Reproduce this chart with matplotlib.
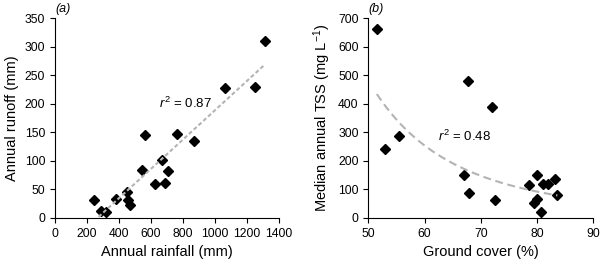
import numpy as np
import matplotlib
matplotlib.use('Agg')
import matplotlib.pyplot as plt

plt.rcParams['font.family'] = ['Liberation Sans', 'DejaVu Sans']
plt.rcParams['mathtext.fontset'] = 'custom'
plt.rcParams['mathtext.rm'] = 'Liberation Sans'
plt.rcParams['mathtext.it'] = 'Liberation Sans:italic'
plt.rcParams['mathtext.default'] = 'regular'

# panel (a): annual rainfall vs annual runoff
rain = [242, 287, 319, 379, 448, 458, 467, 546, 560, 623, 669, 690, 704, 760, 871, 1065, 1252, 1310]
runoff = [32, 13, 10, 34, 45, 31, 22, 84, 146, 59, 101, 61, 83, 147, 134, 227, 229, 309]

# panel (b): ground cover vs median annual TSS
cover = [51.5, 53.0, 55.5, 67.0, 67.8, 67.7, 71.9, 72.5, 78.6, 79.4, 80.0, 80.0, 80.6, 81.1, 82.0, 83.1, 83.6]
tss = [660, 241, 288, 151, 89, 481, 387, 63, 117, 54, 68, 152, 21, 120, 120, 135, 82]

grey = '#b4b4b4'

fig = plt.figure(figsize=(6, 2.61), dpi=100)
ax1 = fig.add_axes([0.0917, 0.1648, 0.3733, 0.7662])
ax2 = fig.add_axes([0.614, 0.1648, 0.375, 0.7662])

# linear trend for (a)
k, b = np.polyfit(rain, runoff, 1)
xl = np.array([min(rain), max(rain)])
ax1.plot(rain, runoff, 'D', color='black', markersize=4.9, zorder=2)
ax1.plot(xl, k * xl + b, '--', color=grey, lw=1.5, dashes=(1.9, 1.2), zorder=3)
ax1.set_xlim(0, 1400)
ax1.set_ylim(0, 350)
ax1.set_xticks(np.arange(0, 1401, 200))
ax1.set_yticks(np.arange(0, 351, 50))
ax1.set_xlabel('Annual rainfall (mm)', fontsize=10.5)
ax1.set_ylabel('Annual runoff (mm)', fontsize=10.5)
ax1.text(650, 192, r'$\it{r}^2$ = 0.87', fontsize=9.5, va='baseline')
ax1.text(0.0, 1.03, '(a)', style='italic', transform=ax1.transAxes, fontsize=9)

# power trend for (b)
p = np.polyfit(np.log(cover), np.log(tss), 1)
xc = np.linspace(min(cover), max(cover), 100)
ax2.plot(cover, tss, 'D', color='black', markersize=4.9, zorder=2)
ax2.plot(xc, np.exp(p[1]) * xc ** p[0], '--', color=grey, lw=1.5, dashes=(3.8, 2.2), zorder=3)
ax2.set_xlim(50, 90)
ax2.set_ylim(0, 700)
ax2.set_xticks(np.arange(50, 91, 10))
ax2.set_yticks(np.arange(0, 701, 100))
ax2.set_xlabel('Ground cover (%)', fontsize=10.5)
ax2.set_ylabel(r'Median annual TSS (mg L$^{-1}$)', fontsize=10.5)
ax2.text(62.4, 270, r'$\it{r}^2$ = 0.48', fontsize=9.5, va='baseline')
ax2.text(0.0, 1.03, '(b)', style='italic', transform=ax2.transAxes, fontsize=9)

for ax in (ax1, ax2):
    ax.spines['top'].set_visible(False)
    ax.spines['right'].set_visible(False)
    ax.tick_params(direction='out', length=3.5, width=0.8, labelsize=8.7)

fig.savefig('out.png', dpi=100)
